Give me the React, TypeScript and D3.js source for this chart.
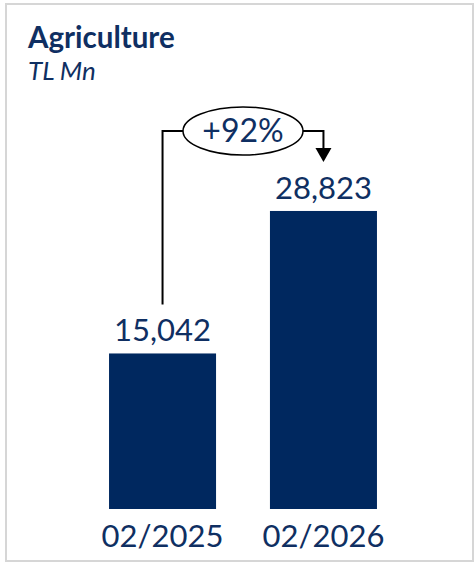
import React from "react";
import * as d3 from "d3";

const title = "Agriculture";
const subtitle = "TL Mn";
const categories = ["02/2025", "02/2026"];
const values = [15042, 28823];
const changeLabel = "+92%";

const W = 475;
const H = 563;
const NAVY = "#00285f";
const TEXT = "#0f2f62";
const FONT = "Lato, 'Noto Sans', sans-serif";

export default function App() {
  const x = d3
    .scaleBand<string>()
    .domain(categories)
    .range([82, 404])
    .paddingInner(0.335)
    .paddingOuter(0.168);
  const y = d3.scaleLinear().domain([0, 30000]).range([509, 198.8]);
  const fmt = d3.format(",");

  const c0 = (x(categories[0]) as number) + x.bandwidth() / 2;
  const c1 = (x(categories[1]) as number) + x.bandwidth() / 2;
  const ey = 131;
  const ecx = (c0 + c1) / 2;
  const erx = 60;
  const ery = 24;
  const lineTop0 = y(values[0]) - 49;
  const arrowTip = y(values[1]) - 49;

  return (
    <svg
      width={W}
      height={H}
      style={{ position: "absolute", left: 0, top: 0, background: "#fff" }}
      fontFamily={FONT}
    >
      <rect x={6} y={4} width={467} height={557} fill="#fff" stroke="#d6d6d6" strokeWidth={2} />
      <text x={28} y={48} fontSize={29.5} fontWeight={700} fill={TEXT}>
        {title}
      </text>
      <text x={28} y={80} fontSize={26} fontStyle="italic" fill={TEXT}>
        {subtitle}
      </text>
      {categories.map((c, i) => (
        <g key={c}>
          <rect
            x={x(c)}
            y={y(values[i])}
            width={x.bandwidth()}
            height={y(0) - y(values[i])}
            fill={NAVY}
          />
          <text
            x={(x(c) as number) + x.bandwidth() / 2}
            y={y(values[i]) - 12}
            textAnchor="middle"
            fontSize={31}
            fill={TEXT}
          >
            {fmt(values[i])}
          </text>
          <text
            x={(x(c) as number) + x.bandwidth() / 2}
            y={547}
            textAnchor="middle"
            fontSize={31}
            fill={TEXT}
          >
            {c}
          </text>
        </g>
      ))}
      <path
        d={`M${c0},${lineTop0}V${ey}H${ecx - erx}`}
        fill="none"
        stroke="#000"
        strokeWidth={2}
      />
      <path
        d={`M${ecx + erx},${ey}H${c1}V${arrowTip - 12}`}
        fill="none"
        stroke="#000"
        strokeWidth={2}
      />
      <path
        d={`M${c1 - 8},${arrowTip - 14}L${c1 + 8},${arrowTip - 14}L${c1},${arrowTip}Z`}
        fill="#000"
      />
      <ellipse cx={ecx} cy={ey} rx={erx} ry={ery} fill="#fff" stroke="#000" strokeWidth={1.5} />
      <text x={ecx} y={ey + 11} textAnchor="middle" fontSize={32} fill={TEXT}>
        {changeLabel}
      </text>
    </svg>
  );
}
